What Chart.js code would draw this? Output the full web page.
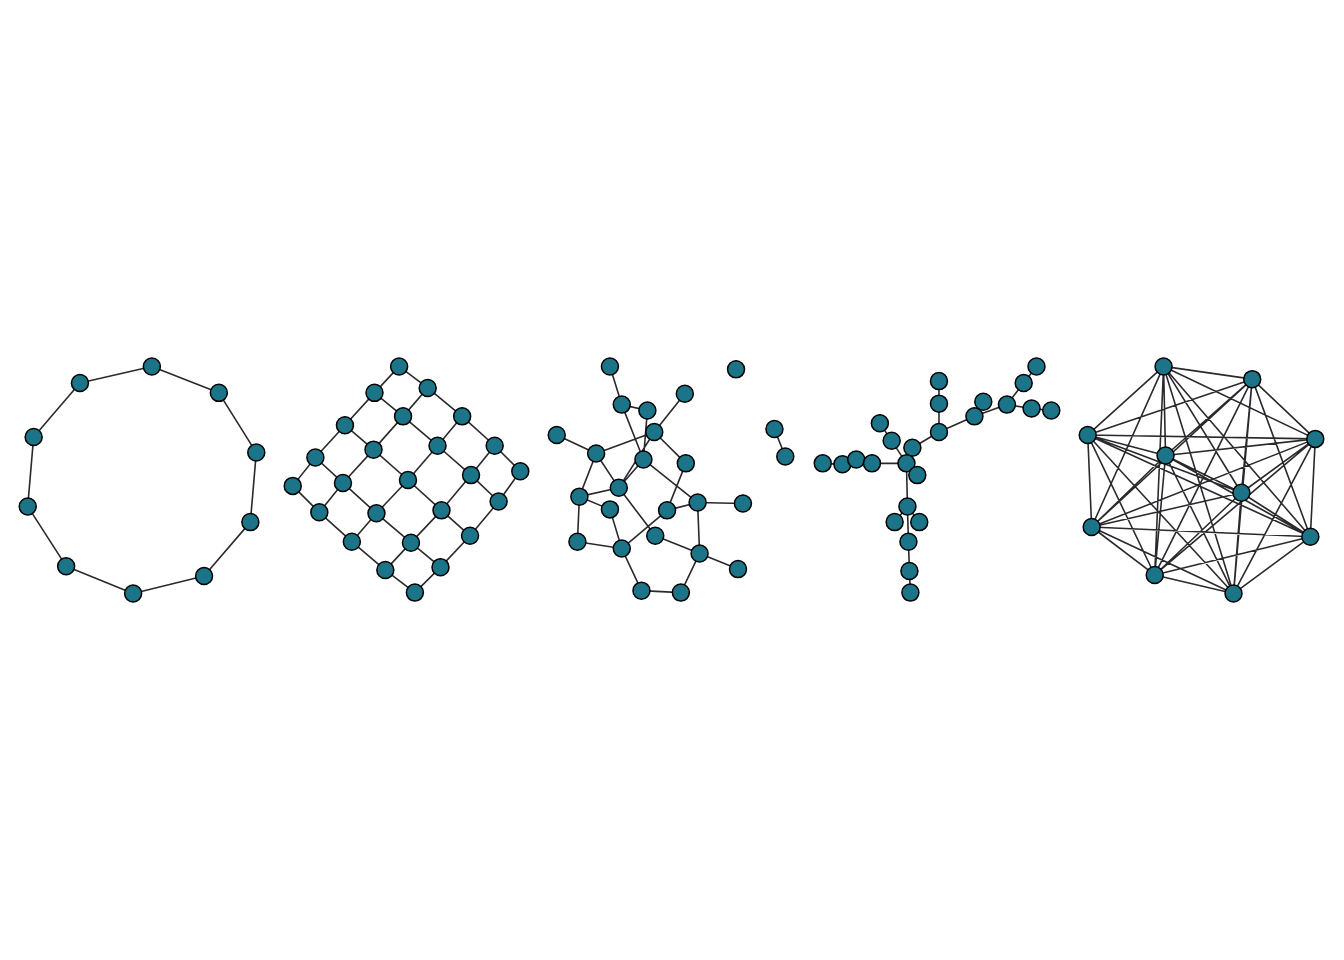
<!DOCTYPE html>
<html>
<head>
<meta charset="utf-8">
<script src="https://cdn.jsdelivr.net/npm/chart.js@4"></script>
<style>
  html, body { margin: 0; padding: 0; background: #fff; }
  #wrap { width: 1344px; height: 960px; }
</style>
</head>
<body>
<div id="wrap"><canvas id="c"></canvas></div>
<script>
// node positions (x, y in page units, y downwards)
const ringNodes = [[144,364],[212,391],[250,452],[244,523],[197,578],[125,596],[57,568],[18,507],[24,436],[71,381]];

// grid rows: gridNodes[b][a]
const gridNodes = [
  [[395,364],[424,386],[459,415],[492,445],[518,471]],
  [[370,391],[399,415],[434,445],[468,475],[496,502]],
  [[340,424],[369,449],[404,480],[438,511],[467,537]],
  [[310,457],[338,483],[372,514],[407,544],[437,569]],
  [[287,486],[314,513],[347,543],[381,572],[411,595]]
];

const randNodes = [[609,364],[621,403],[647,409],[685,392],[737,367],[555,434],[595,453],[654,431],
  [643,459],[686,463],[776,428],[787,456],[578,497],[618,488],[609,510],[667,511],[698,503],
  [744,504],[576,543],[621,550],[655,537],[700,555],[739,571],[641,593],[681,595]];
const randEdges = [[0,1],[1,2],[1,8],[2,8],[3,7],[5,6],[6,7],[6,12],[6,13],[7,9],[8,13],[7,13],
  [8,16],[9,15],[15,16],[16,17],[16,21],[12,13],[12,14],[12,18],[14,19],[13,20],[19,15],
  [18,19],[20,21],[21,22],[19,23],[23,24],[24,21],[10,11]];

const treeNodes = [[943,379],[943,402],[943,431],[979,415],[988,400],[1012,403],[1029,381],[1042,364],
  [1037,407],[1057,409],[883,422],[895,440],[916,447],[910,463],[921,475],[825,463],[845,464],
  [859,459],[875,463],[911,507],[898,523],[923,523],[912,543],[913,573],[914,595]];
const treeEdges = [[0,1],[1,2],[2,12],[2,3],[3,4],[3,5],[5,6],[6,7],[5,8],[8,9],[10,11],[11,13],
  [12,13],[13,14],[13,18],[18,17],[17,16],[16,15],[13,19],[19,20],[19,21],[19,22],[22,23],[23,24]];

const fullNodes = [[1171,364],[1261,377],[1325,438],[1320,538],[1242,596],[1162,577],[1098,528],
  [1094,434],[1173,455],[1250,493]];

const NODE_FILL = '#1b7487';
const EDGE_COLOR = '#2a2a2e';

const nodes = [];
const segs = [];
function addGraph(pts, edges) {
  pts.forEach(p => nodes.push({ x: p[0], y: p[1] }));
  edges.forEach(e => {
    segs.push({ x: pts[e[0]][0], y: pts[e[0]][1] });
    segs.push({ x: pts[e[1]][0], y: pts[e[1]][1] });
    segs.push({ x: null, y: null });
  });
}

addGraph(ringNodes, ringNodes.map((_, i) => [i, (i + 1) % ringNodes.length]));

const gridFlat = [];
const gridEdges = [];
gridNodes.forEach((row, b) => row.forEach((p, a) => {
  const k = b * 5 + a;
  gridFlat.push(p);
  if (a < 4) gridEdges.push([k, k + 1]);
  if (b < 4) gridEdges.push([k, k + 5]);
}));
addGraph(gridFlat, gridEdges);
addGraph(randNodes, randEdges);
addGraph(treeNodes, treeEdges);

const fullEdges = [];
for (let i = 0; i < fullNodes.length; i++)
  for (let j = i + 1; j < fullNodes.length; j++) fullEdges.push([i, j]);
addGraph(fullNodes, fullEdges);

new Chart(document.getElementById('c'), {
  type: 'scatter',
  data: {
    datasets: [
      {
        type: 'line',
        data: segs,
        borderColor: EDGE_COLOR,
        borderWidth: 1.6,
        pointRadius: 0,
        spanGaps: false,
        order: 2
      },
      {
        data: nodes,
        backgroundColor: NODE_FILL,
        borderColor: '#000',
        borderWidth: 1.5,
        pointRadius: 8.5,
        order: 1
      }
    ]
  },
  options: {
    responsive: true,
    maintainAspectRatio: false,
    animation: false,
    layout: { padding: 0 },
    plugins: { legend: { display: false }, tooltip: { enabled: false } },
    scales: {
      x: { type: 'linear', min: 0, max: 1344, display: false },
      y: { type: 'linear', min: 0, max: 960, reverse: true, display: false }
    }
  }
});
</script>
</body>
</html>
